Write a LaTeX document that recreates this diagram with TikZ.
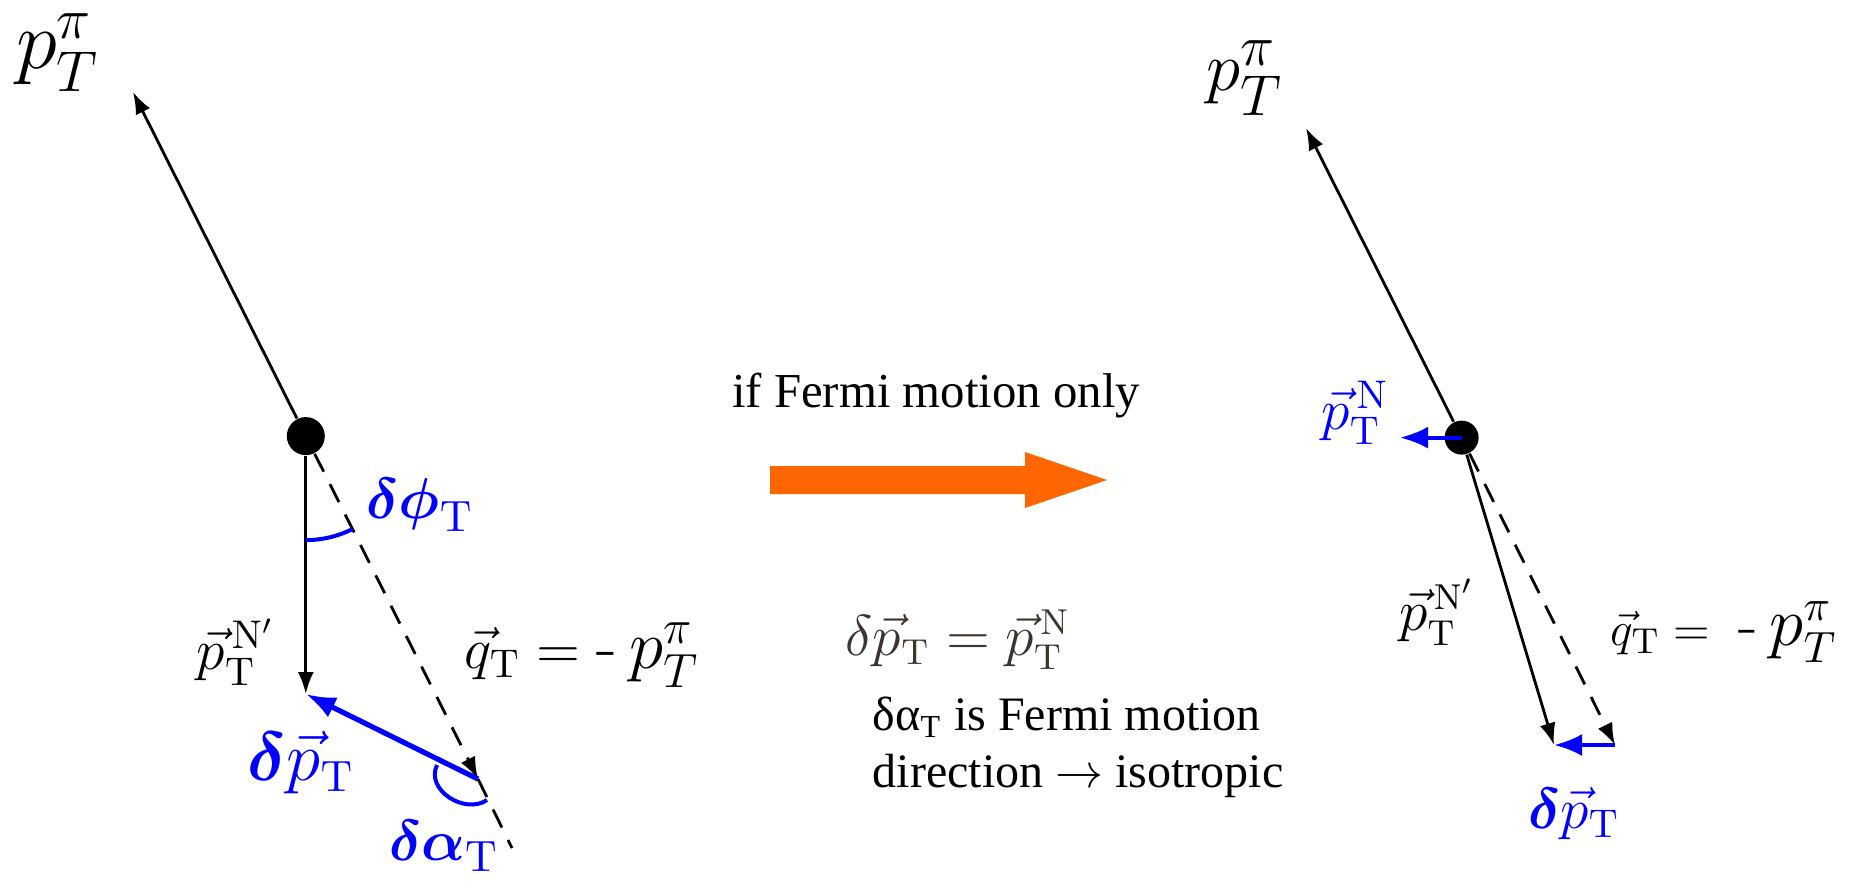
\documentclass[tikz,border=0pt]{standalone}
\usepackage{amsmath}
\usepackage[no-math]{fontspec}
\newfontfamily\timesfont{Liberation Serif}
\usetikzlibrary{arrows.meta}
\definecolor{vecblue}{RGB}{0,0,255}
\definecolor{fermiorange}{RGB}{255,102,0}
\definecolor{formulagray}{RGB}{60,52,45}
\newcommand{\fsz}[1]{\fontsize{#1}{#1}\selectfont}
\begin{document}
\begin{tikzpicture}[x=.25pt,y=.25pt,>={Latex[length=5.5pt,width=4pt]},
 vdot/.style={circle,fill=black,inner sep=0pt},
 pvec/.style={line width=.7pt},
 qline/.style={line width=.7pt,dash pattern=on 5pt off 3.5pt},
 dpline/.style={vecblue,line width=1.3pt,-{Latex[length=7.5pt,width=5.5pt]}},
 pnline/.style={vecblue,line width=.95pt,-{Latex[length=7pt,width=5.5pt]}},
 anglearc/.style={vecblue,line width=1pt},
 lbl/.style={inner sep=0pt}]
\useasboundingbox (0,0) rectangle (1849,-880);
% left: general case
\begin{scope}
  \node[vdot,minimum size=9.5pt] (vtxL) at (305.8,-436.1) {};
  \coordinate (piL) at (133,-92);
  \coordinate (nL) at (305.8,-694);
  \coordinate (qL) at (478,-779);
  \coordinate (endL) at (512,-848);
  \draw[pvec,->] (vtxL) -- (piL);
  \draw[pvec,->] (vtxL) -- (nL);
  \draw[qline,->] (vtxL) -- (qL);
  \draw[qline] (qL) -- (endL);
  \draw[dpline] (qL) -- (nL);
  \draw[anglearc] ([shift={(-90:104)}]vtxL.center) arc[start angle=-90,end angle=-63.3,radius=104];
  \draw[anglearc] (437,-765) .. controls (425,-790) and (465,-815) .. (487,-800);
  \node[lbl,anchor=north] (piLlbl) at (58,-13) {\fsz{20}$p_T^{\pi}$};
  \node[lbl,vecblue] (dphi) at (420,-505) {\fsz{15}$\boldsymbol{\delta\phi}_{\mathrm{T}}$};
  \node[lbl] (nLlbl) at (236,-652) {\fsz{14.5}${\vec{p}}_{\mathrm{T}}^{\,\mathrm{N}'}$};
  \node[lbl] (qLlbl) at (582,-655) {\fsz{14.5}$\vec{q}_{\mathrm{T}}=$\hspace{4pt}{\fsz{17}-\hspace{3pt}$p_T^{\pi}$}};
  \node[lbl,vecblue] (dpL) at (301,-763) {\fsz{16}$\boldsymbol{\delta}\vec{p}_{\mathrm{T}}$};
  \node[lbl,vecblue] (dalpha) at (444,-846) {\fsz{15}$\boldsymbol{\delta\alpha}_{\mathrm{T}}$};
\end{scope}
% middle
\node[lbl,anchor=base] (fermi) at (936,-407) {\timesfont\fsz{12.2}if Fermi motion only};
\fill[fermiorange] (770,-466) -- (1025,-466) -- (1025,-452) -- (1107,-480)
  -- (1025,-508) -- (1025,-494) -- (770,-494) -- cycle;
\node[lbl,formulagray] (dpeq) at (958,-640) {\fsz{13.5}$\delta\vec{p}_{\mathrm{T}}={\vec{p}}_{\mathrm{T}}^{\,\mathrm{N}}$};
\node[lbl,anchor=base west] (iso1) at (872,-730) {\timesfont\fsz{12}δα\textsubscript{T} is Fermi motion};
\node[lbl,anchor=base west] (iso2) at (872,-787) {\timesfont\fsz{12}direction $\rightarrow$ isotropic};
% right: Fermi motion only
\begin{scope}
  \node[vdot,minimum size=8.5pt] (vtxR) at (1461.6,-437.6) {};
  \coordinate (piR) at (1306,-128);
  \coordinate (pNR) at (1400,-437.6);
  \coordinate (nR) at (1554,-745);
  \coordinate (qR) at (1615,-745);
  \draw[pvec,->] (vtxR) -- (piR);
  \draw[pvec,->] (vtxR) -- (nR);
  \draw[qline,->] (vtxR) -- (qR);
  \draw[pnline] (qR) -- (nR);
  \draw[pnline] (vtxR.center) -- (pNR);
  \node[lbl] (piRlbl) at (1245,-78) {\fsz{19}$p_T^{\pi}$};
  \node[lbl,vecblue] (pNlbl) at (1355,-413) {\fsz{14.5}${\vec{p}}_{\mathrm{T}}^{\,\mathrm{N}}$};
  \node[lbl] (nRlbl) at (1437,-612) {\fsz{13.5}${\vec{p}}_{\mathrm{T}}^{\,\mathrm{N}'}$};
  \node[lbl] (qRlbl) at (1724,-632) {\fsz{13}$\vec{q}_{\mathrm{T}}=$\hspace{7pt}{\fsz{16}-\hspace{3pt}$p_T^{\pi}$}};
  \node[lbl,vecblue] (dpR) at (1574,-814) {\fsz{14}$\boldsymbol{\delta}\vec{p}_{\mathrm{T}}$};
\end{scope}
\end{tikzpicture}
\end{document}
